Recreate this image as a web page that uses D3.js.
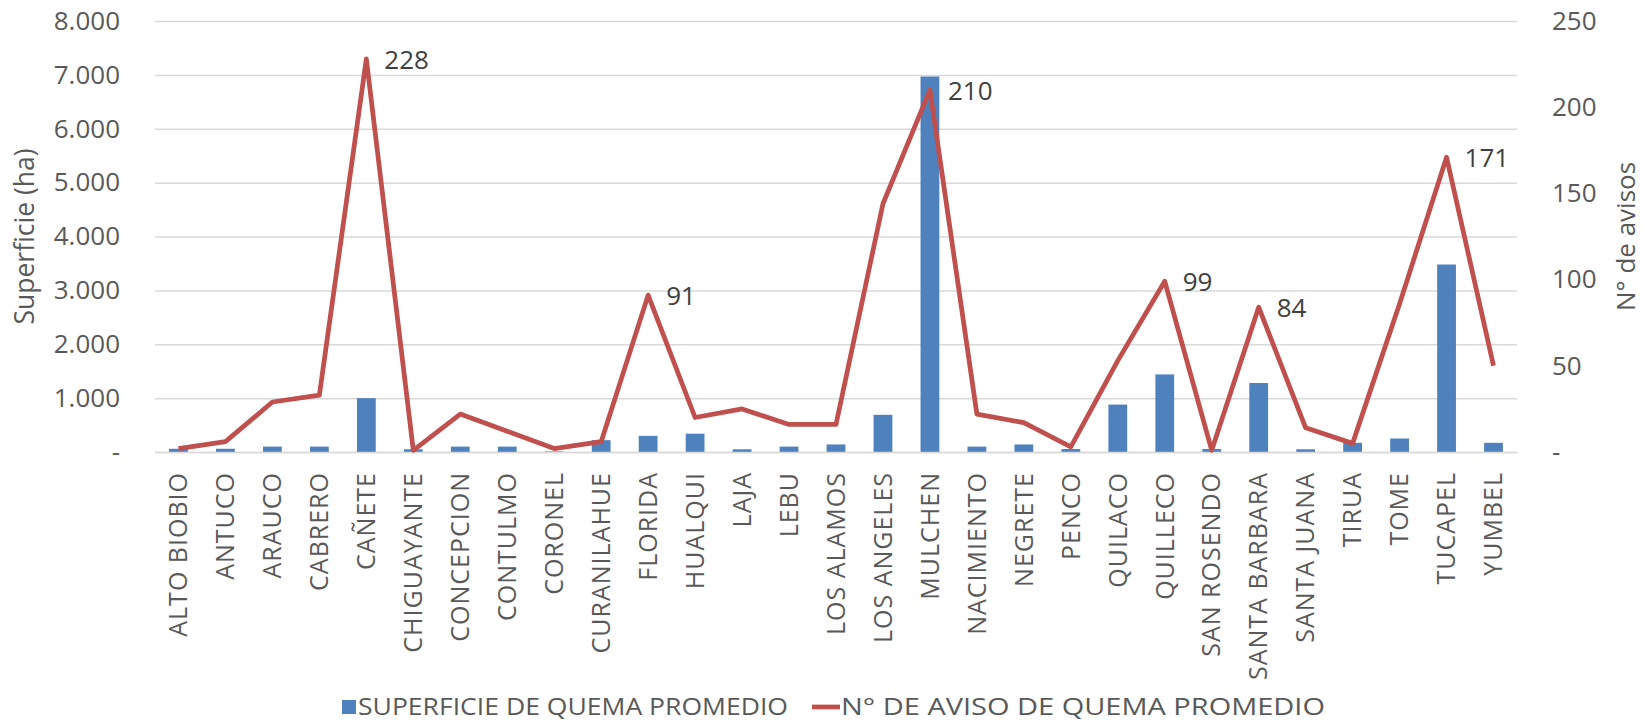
<!DOCTYPE html>
<html>
<head>
<meta charset="utf-8">
<script src="https://cdn.jsdelivr.net/npm/d3@7"></script>
<style>
  body { margin: 0; background: #fff; }
  svg text { font-family: "Open Sans", "Noto Sans", sans-serif; }
</style>
</head>
<body>
<svg id="chart" width="1643" height="723"></svg>
<script>
var comunas = ["ALTO BIOBIO", "ANTUCO", "ARAUCO", "CABRERO", "CAÑETE", "CHIGUAYANTE",
  "CONCEPCION", "CONTULMO", "CORONEL", "CURANILAHUE", "FLORIDA", "HUALQUI", "LAJA",
  "LEBU", "LOS ALAMOS", "LOS ANGELES", "MULCHEN", "NACIMIENTO", "NEGRETE", "PENCO",
  "QUILACO", "QUILLECO", "SAN ROSENDO", "SANTA BARBARA", "SANTA JUANA", "TIRUA",
  "TOME", "TUCAPEL", "YUMBEL"];

// superficie de quema promedio (ha)
var superficie = [60, 60, 100, 100, 1000, 50, 100, 100, 10, 220, 300, 340, 50,
  100, 140, 690, 6970, 100, 140, 55, 880, 1440, 55, 1280, 50, 170, 250, 3480, 170];

// n° de aviso de quema promedio
var avisos = [2, 6, 29, 33, 228, 1, 22, 12, 2, 6, 91, 20, 25, 16, 16, 144, 210,
  22, 17, 3, 53, 99, 1, 84, 14, 5, 86, 171, 50];

var etiquetados = ["CAÑETE", "FLORIDA", "MULCHEN", "QUILLECO", "SANTA BARBARA", "TUCAPEL"];

var ticksSup = [0, 1000, 2000, 3000, 4000, 5000, 6000, 7000, 8000];
var ticksAv = [0, 50, 100, 150, 200, 250];

var serieBarras = "SUPERFICIE DE QUEMA PROMEDIO";
var serieLinea = "N° DE AVISO DE QUEMA PROMEDIO";

var svg = d3.select("#chart");
var plotLeft = 155, plotRight = 1517, plotTop = 21, plotBottom = 452;
var azul = "#4f81bd", rojo = "#c0504d", gris = "#595959";

var es = d3.formatLocale({decimal: ",", thousands: ".", grouping: [3], currency: ["", ""]});
var fmt = es.format(",d");
function tickFmt(d) { return d === 0 ? "-" : fmt(d); }

var x = d3.scaleBand()
  .domain(comunas)
  .range([plotLeft, plotRight])
  .paddingInner(0.6)
  .paddingOuter(0.3);

var yL = d3.scaleLinear().domain([0, 8000]).range([plotBottom, plotTop]);
var yR = d3.scaleLinear().domain([0, 250]).range([plotBottom, plotTop]);

// grid
svg.append("g")
  .attr("transform", "translate(" + plotLeft + ",0)")
  .call(d3.axisLeft(yL).tickValues(ticksSup).tickSize(-(plotRight - plotLeft)).tickFormat(""))
  .call(function(g) {
    g.select(".domain").remove();
    g.selectAll("line").attr("stroke", "#d9d9d9").attr("stroke-width", 1.5);
  });

// left axis labels
svg.append("g")
  .attr("transform", "translate(" + plotLeft + ",0)")
  .call(d3.axisLeft(yL).tickValues(ticksSup).tickSize(0).tickPadding(35).tickFormat(tickFmt))
  .call(function(g) {
    g.select(".domain").remove();
    g.selectAll("text").attr("fill", gris).style("font-size", "26px")
      .style("font-family", "'Open Sans', sans-serif");
  });

// right axis labels
svg.append("g")
  .attr("transform", "translate(" + plotRight + ",0)")
  .call(d3.axisRight(yR).tickValues(ticksAv).tickSize(0).tickPadding(35).tickFormat(tickFmt))
  .call(function(g) {
    g.select(".domain").remove();
    g.selectAll("text").attr("fill", gris).style("font-size", "26px")
      .style("font-family", "'Open Sans', sans-serif");
  });

// bars
svg.append("g").selectAll("rect")
  .data(comunas)
  .join("rect")
  .attr("x", function(d) { return x(d); })
  .attr("width", x.bandwidth())
  .attr("y", function(d, i) { return yL(superficie[i]); })
  .attr("height", function(d, i) { return plotBottom - yL(superficie[i]); })
  .attr("fill", azul);

// x axis
svg.append("g")
  .attr("transform", "translate(0," + plotBottom + ")")
  .call(d3.axisBottom(x).tickSize(0).tickPadding(0))
  .call(function(g) {
    g.select(".domain").attr("stroke", "#d9d9d9").attr("stroke-width", 1.5);
    g.selectAll("text")
      .attr("fill", gris)
      .attr("transform", "rotate(-90)")
      .attr("text-anchor", "end")
      .attr("x", -20)
      .attr("y", 0)
      .attr("dy", "0.35em")
      .style("font-size", "25px")
      .style("letter-spacing", "1px")
      .style("font-family", "'Open Sans', sans-serif");
  });

// line
var linea = d3.line()
  .x(function(d, i) { return x(comunas[i]) + x.bandwidth() / 2; })
  .y(function(d) { return yR(d); });

svg.append("path")
  .datum(avisos)
  .attr("d", linea)
  .attr("fill", "none")
  .attr("stroke", rojo)
  .attr("stroke-width", 4.75)
  .attr("stroke-linejoin", "round");

// data labels
svg.append("g").selectAll("text")
  .data(etiquetados)
  .join("text")
  .attr("x", function(d) { return x(d) + x.bandwidth() / 2 + 18; })
  .attr("y", function(d) { return yR(avisos[comunas.indexOf(d)]) + 1; })
  .attr("dy", "0.35em")
  .attr("fill", "#404040")
  .style("font-size", "26px")
  .text(function(d) { return avisos[comunas.indexOf(d)]; });

// axis titles
svg.append("text")
  .attr("transform", "translate(25," + (plotTop + plotBottom) / 2 + ") rotate(-90)")
  .attr("text-anchor", "middle")
  .attr("dy", "0.35em")
  .attr("fill", gris)
  .style("font-size", "26.5px")
  .text("Superficie (ha)");

svg.append("text")
  .attr("transform", "translate(1626," + (plotTop + plotBottom) / 2 + ") rotate(-90)")
  .attr("text-anchor", "middle")
  .attr("dy", "0.35em")
  .attr("fill", gris)
  .style("font-size", "26px")
  .text("N° de avisos");

// legend
var ley = svg.append("g").attr("transform", "translate(0,707)");
ley.append("rect")
  .attr("x", 342).attr("y", -7).attr("width", 14).attr("height", 14)
  .attr("fill", azul);
ley.append("text")
  .attr("x", 358).attr("dy", "0.35em")
  .attr("fill", gris)
  .attr("textLength", 430).attr("lengthAdjust", "spacingAndGlyphs")
  .style("font-size", "24px")
  .text(serieBarras);
ley.append("line")
  .attr("x1", 812).attr("x2", 840).attr("y1", 0).attr("y2", 0)
  .attr("stroke", rojo).attr("stroke-width", 4.75);
ley.append("text")
  .attr("x", 841).attr("dy", "0.35em")
  .attr("fill", gris)
  .attr("textLength", 484).attr("lengthAdjust", "spacingAndGlyphs")
  .style("font-size", "24px")
  .text(serieLinea);
</script>
</body>
</html>
